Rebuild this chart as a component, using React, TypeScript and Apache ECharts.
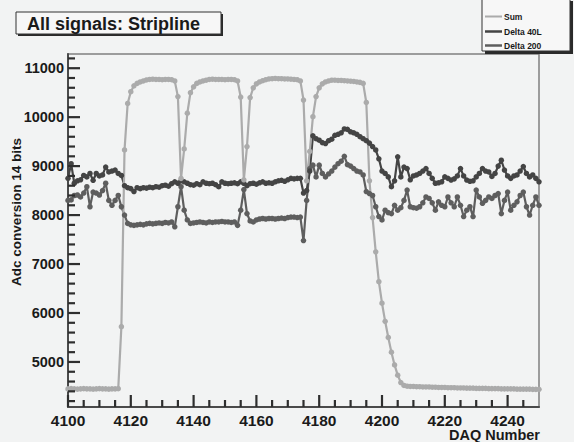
import React, { useEffect, useRef } from "react";
import * as echarts from "echarts";

const daqStart = 4100;

// DAQ 4100 .. 4250
const sumValues = [
  4450, 4455, 4450, 4445, 4450, 4455, 4450, 4450, 4445, 4450, 4455, 4450, 4450, 4445, 4450, 4450, 4455,
  5720, 9330, 10280, 10520, 10640, 10690, 10720, 10740, 10760,
  10770, 10775, 10770, 10770, 10765, 10770, 10770, 10765,
  10740, 10420, 8750, 9350, 10080, 10500, 10620, 10690, 10720, 10740, 10755,
  10770, 10775, 10770, 10770, 10770, 10765, 10770, 10770, 10765,
  10740, 10410, 8720, 9400, 10400, 10600, 10680, 10720, 10745, 10765,
  10780, 10785, 10790, 10785, 10785, 10780, 10780, 10775, 10770, 10765,
  10740, 10350, 8700, 9300, 10010, 10420, 10600, 10680, 10720, 10740, 10755,
  10755, 10750, 10750, 10745, 10740, 10735, 10730, 10720, 10710,
  10690, 10300, 8700, 7950, 7250, 6640, 6200, 5830, 5500, 5200, 4940, 4730, 4580, 4520,
  4505, 4500, 4500, 4495, 4495, 4490, 4490, 4490, 4485, 4485,
  4480, 4480, 4480, 4475, 4475, 4475, 4470, 4470, 4470, 4465,
  4465, 4465, 4460, 4460, 4460, 4460, 4455, 4455, 4455, 4455,
  4450, 4450, 4450, 4450, 4450, 4445, 4445, 4445, 4445, 4445,
  4440, 4440, 4440,
];

const delta40LValues = [
  8750, 9050, 8650, 8700, 8720, 8810, 8780, 8850, 8710, 8850, // 4100-4109
  8800, 8820, 8980, 8880, 8900, 8920, 8850, 8810, 8600, 8560, // 4110-4119
  8540, 8480, 8560, 8540, 8560, 8550, 8570, 8560, 8580, 8570, // 4120-4129
  8600, 8610, 8590, 8640, 8680, 8650, 8700, 8680, 8650, 8620, // 4130-4139
  8610, 8640, 8620, 8680, 8650, 8640, 8650, 8620, 8580, 8680, // 4140-4149
  8650, 8640, 8650, 8660, 8640, 8680, 8650, 8600, 8640, 8650, // 4150-4159
  8630, 8660, 8680, 8650, 8660, 8650, 8680, 8700, 8710, 8690, // 4160-4169
  8720, 8750, 8740, 8750, 8750, 8450, 8500, 8900, 9620, 9560, // 4170-4179
  9530, 9480, 9460, 9520, 9550, 9630, 9650, 9680, 9760, 9750, // 4180-4189
  9700, 9680, 9650, 9600, 9560, 9520, 9470, 9400, 9330, 9150, // 4190-4199
  8900, 8850, 8780, 8580, 8700, 9190, 8780, 8980, 8950, 8720, // 4200-4209
  8800, 8820, 8850, 8900, 8950, 8850, 8750, 8650, 8660, 8680, // 4210-4219
  8780, 8750, 8715, 8740, 8800, 8950, 8800, 8715, 8690, 8700, // 4220-4229
  8780, 8850, 8950, 8900, 8880, 8790, 8850, 9000, 9120, 8920, // 4230-4239
  8800, 8750, 8800, 8820, 8900, 8990, 8850, 8780, 8820, 8750, // 4240-4249
  8680, // 4250
];

const delta200Values = [
  8300, 8310, 8400, 8410, 8370, 8450, 8580, 8170, 8470, 8450, // 4100-4109
  8410, 8500, 8650, 8300, 8200, 8300, 8400, 8170, 8000, 7830, // 4110-4119
  7800, 7790, 7800, 7810, 7800, 7820, 7830, 7820, 7830, 7840, // 4120-4129
  7830, 7850, 7840, 7860, 7760, 8170, 8580, 8100, 7900, 7830, // 4130-4139
  7840, 7850, 7860, 7850, 7840, 7860, 7850, 7860, 7860, 7870, // 4140-4149
  7860, 7860, 7850, 7860, 7790, 8100, 8520, 8030, 7880, 7860, // 4150-4159
  7900, 7920, 7930, 7920, 7930, 7930, 7920, 7930, 7940, 7930, // 4160-4169
  7950, 7960, 7960, 7950, 7960, 7480, 8300, 8950, 9020, 8780, // 4170-4179
  9020, 8850, 8780, 8840, 8900, 8980, 9050, 9100, 9200, 9030, // 4180-4189
  9000, 8950, 8900, 8880, 8820, 8480, 8440, 8400, 8170, 7970, // 4190-4199
  7900, 8100, 8050, 8030, 8200, 8100, 8150, 8300, 8510, 8170, // 4200-4209
  8150, 8140, 8170, 8250, 8370, 8340, 8250, 8100, 8270, 8200, // 4210-4219
  8170, 8370, 8250, 8170, 8370, 8200, 7970, 8100, 8170, 7970, // 4220-4229
  8510, 8370, 8240, 8300, 8370, 8340, 8400, 8440, 8030, 8300, // 4230-4239
  8470, 8100, 8200, 8270, 8400, 8470, 8170, 8000, 8200, 8370, // 4240-4249
  8200, // 4250
];

// axis tick labels
const xTickLabels = [4100, 4120, 4140, 4160, 4180, 4200, 4220, 4240];
const yTickLabels = [5000, 6000, 7000, 8000, 9000, 10000, 11000];

const X_MIN = 4100;
const X_MAX = 4250;
const Y_MIN = 4080;
const Y_MAX = 11290;
const Y_LABEL_MIN = 5000;
const Y_LABEL_MAX = 11000;

const FONT = "'Liberation Sans', Arial, Helvetica, sans-serif";
const SUM_COLOR = "#ababab";
const D40_COLOR = "#444444";
const D200_COLOR = "#5e5e5e";
const AXIS_COLOR = "#4a4a4a";
const TICK_COLOR = "#2e2e2e";

// plot area in pixels
const G_LEFT = 68;
const G_TOP = 54;
const G_W = 471;
const G_H = 353;

export default function App() {
  const ref = useRef<HTMLDivElement>(null);
  useEffect(() => {
    const chart = echarts.init(ref.current!, null, { renderer: "svg" });
    const toPairs = (arr: number[]) => arr.map((v, i) => [daqStart + i, v]);
    const k = G_H / (Y_MAX - Y_MIN);

    chart.setOption({
      animation: false,
      backgroundColor: "#f2f3f3",
      grid: [
        {
          left: G_LEFT,
          top: G_TOP,
          width: G_W,
          height: G_H,
          show: true,
          borderColor: "#808080",
          borderWidth: 1.5,
          backgroundColor: "transparent",
        },
        {
          left: G_LEFT,
          width: G_W,
          top: G_TOP + (Y_MAX - Y_LABEL_MAX) * k,
          height: (Y_LABEL_MAX - Y_LABEL_MIN) * k,
          show: false,
        },
      ],
      xAxis: [
        {
          type: "value",
          gridIndex: 0,
          min: X_MIN,
          max: X_MAX,
          interval: 20,
          position: "bottom",
          axisLine: { show: true, onZero: false, lineStyle: { color: AXIS_COLOR, width: 2 } },
          axisTick: { show: false },
          axisLabel: {
            showMaxLabel: false,
            formatter: (v: number) => (xTickLabels.indexOf(v) >= 0 ? String(v) : ""),
            color: "#1a1a1a",
            fontWeight: "bold",
            fontSize: 15.5,
            fontFamily: FONT,
            margin: 5,
          },
          splitLine: { show: false },
        },
        {
          type: "value",
          gridIndex: 1,
          min: X_MIN,
          max: X_MAX,
          axisLine: { show: false },
          axisTick: { show: false },
          axisLabel: { show: false },
          splitLine: { show: false },
        },
      ],
      yAxis: [
        {
          type: "value",
          gridIndex: 0,
          min: Y_MIN,
          max: Y_MAX,
          position: "left",
          axisLine: { show: true, onZero: false, lineStyle: { color: AXIS_COLOR, width: 2 } },
          axisTick: { show: false },
          axisLabel: { show: false },
          splitLine: { show: false },
        },
        {
          type: "value",
          gridIndex: 1,
          min: Y_LABEL_MIN,
          max: Y_LABEL_MAX,
          interval: 1000,
          position: "left",
          axisLine: { show: false, onZero: false },
          axisTick: { show: false },
          axisLabel: {
            formatter: (v: number) => String(v),
            color: "#1a1a1a",
            fontWeight: "bold",
            fontSize: 14.5,
            fontFamily: FONT,
            margin: 4,
          },
          splitLine: { show: false },
        },
      ],
      series: [
        {
          name: "Delta 200",
          type: "line",
          xAxisIndex: 0,
          yAxisIndex: 0,
          data: toPairs(delta200Values),
          symbol: "circle",
          symbolSize: 5.5,
          showSymbol: true,
          itemStyle: { color: D200_COLOR },
          lineStyle: { color: D200_COLOR, width: 2.2 },
        },
        {
          name: "Delta 40L",
          type: "line",
          xAxisIndex: 0,
          yAxisIndex: 0,
          data: toPairs(delta40LValues),
          symbol: "circle",
          symbolSize: 5.5,
          showSymbol: true,
          itemStyle: { color: D40_COLOR },
          lineStyle: { color: D40_COLOR, width: 2.2 },
        },
        {
          name: "Sum",
          type: "line",
          xAxisIndex: 0,
          yAxisIndex: 0,
          data: toPairs(sumValues),
          symbol: "circle",
          symbolSize: 5.5,
          showSymbol: true,
          itemStyle: { color: SUM_COLOR },
          lineStyle: { color: SUM_COLOR, width: 2.2 },
        },
      ],
    });

    const toPx = (x: number, y: number): number[] => {
      let p: any = null;
      try {
        p = chart.convertToPixel({ seriesIndex: 0 }, [x, y]);
      } catch (e) {
        p = null;
      }
      if (!p || !isFinite(p[0]) || !isFinite(p[1])) {
        p = [G_LEFT + ((x - X_MIN) / (X_MAX - X_MIN)) * G_W, G_TOP + (Y_MAX - y) * k];
      }
      return p;
    };

    // tick marks drawn as polylines (one per tick) on top of everything
    const tickEls: any[] = [];
    const addY = (v: number, len: number) => {
      const p = toPx(X_MIN, v);
      tickEls.push({
        type: "polyline",
        z: 100,
        silent: true,
        shape: { points: [[p[0], p[1]], [p[0] + len, p[1]]] },
        style: { stroke: TICK_COLOR, lineWidth: 2.2, fill: null },
      });
    };
    const addX = (v: number, len: number) => {
      const p = toPx(v, Y_MIN);
      tickEls.push({
        type: "polyline",
        z: 100,
        silent: true,
        shape: { points: [[p[0], p[1]], [p[0], p[1] - len]] },
        style: { stroke: TICK_COLOR, lineWidth: 2.2, fill: null },
      });
    };
    yTickLabels.forEach((v) => addY(v, 12));
    for (let v = 4200; v <= 11200; v += 200) if (yTickLabels.indexOf(v) < 0) addY(v, 7);
    xTickLabels.forEach((v) => addX(v, 12));
    for (let v = 4105; v < X_MAX; v += 5) if (xTickLabels.indexOf(v) < 0) addX(v, 7);

    chart.setOption({
      graphic: {
        elements: [
          ...tickEls,
          // title box
          { type: "rect", z: 100, shape: { x: 18, y: 14, width: 205, height: 22 }, style: { fill: "#2a2a2a" } },
          { type: "rect", z: 101, shape: { x: 16, y: 12, width: 205, height: 22 }, style: { fill: "#f7f7f7", stroke: "#333", lineWidth: 1 } },
          {
            type: "text",
            z: 102,
            x: 27,
            y: 23.5,
            style: { text: "All signals: Stripline", font: `bold 18px ${FONT}`, fill: "#1a1a1a", textVerticalAlign: "middle" },
          },
          // legend box
          { type: "rect", z: 110, shape: { x: 485, y: 1, width: 88, height: 53 }, style: { fill: "#2a2a2a" } },
          { type: "rect", z: 111, shape: { x: 482, y: -2, width: 88, height: 53 }, style: { fill: "#f7f7f7", stroke: "#333", lineWidth: 1 } },
          { type: "line", z: 112, shape: { x1: 485, y1: 16.5, x2: 502, y2: 16.5 }, style: { stroke: SUM_COLOR, lineWidth: 2 } },
          { type: "text", z: 112, x: 504, y: 16.5, style: { text: "Sum", font: `bold 8.5px ${FONT}`, fill: "#1a1a1a", textVerticalAlign: "middle" } },
          { type: "line", z: 112, shape: { x1: 485, y1: 31.5, x2: 502, y2: 31.5 }, style: { stroke: D40_COLOR, lineWidth: 2.5 } },
          { type: "text", z: 112, x: 504, y: 31.5, style: { text: "Delta 40L", font: `bold 8.5px ${FONT}`, fill: "#1a1a1a", textVerticalAlign: "middle" } },
          { type: "line", z: 112, shape: { x1: 485, y1: 45.5, x2: 502, y2: 45.5 }, style: { stroke: D200_COLOR, lineWidth: 2.5 } },
          { type: "text", z: 112, x: 504, y: 45.5, style: { text: "Delta 200", font: `bold 8.5px ${FONT}`, fill: "#1a1a1a", textVerticalAlign: "middle" } },
          // axis titles
          {
            type: "text",
            x: 16,
            y: 212,
            rotation: Math.PI / 2,
            style: { text: "Adc conversion 14 bits", font: `bold 13.5px ${FONT}`, fill: "#1a1a1a", textAlign: "center", textVerticalAlign: "middle" },
          },
          {
            type: "text",
            x: 540,
            y: 435,
            style: { text: "DAQ Number", font: `bold 14.5px ${FONT}`, fill: "#1a1a1a", textAlign: "right", textVerticalAlign: "middle" },
          },
        ],
      },
    });
    return () => chart.dispose();
  }, []);
  return (
    <div
      ref={ref}
      style={{ position: "absolute", left: 0, top: 0, width: 574, height: 442, background: "#f2f3f3" }}
    />
  );
}
